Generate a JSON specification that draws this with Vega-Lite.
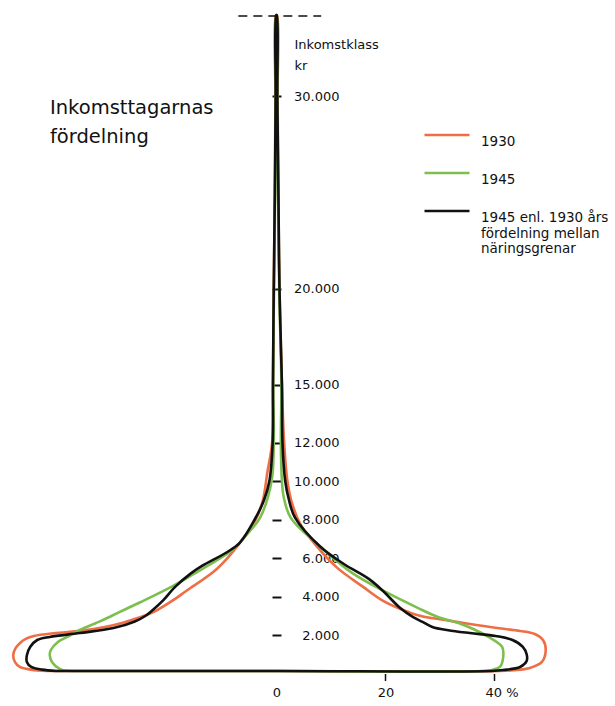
{
  "$schema": "https://vega.github.io/schema/vega-lite/v6.json",
  "width": 615,
  "height": 706,
  "autosize": "none",
  "padding": 0,
  "background": "white",
  "config": {"view": {"stroke": null}, "font": "DejaVu Sans"},
  "title": {
    "text": ["Inkomsttagarnas", "fördelning"],
    "anchor": "start",
    "frame": "group",
    "orient": "top",
    "offset": 0,
    "dx": 50,
    "dy": 147,
    "baseline": "top",
    "fontSize": 19.5,
    "fontWeight": "normal",
    "lineHeight": 29,
    "color": "#111111"
  },
  "layer": [
    {
      "data": {
        "values": [
          {"s": "1930", "o": 1, "inc": 130, "pct": -42.0},
          {"s": "1930", "o": 2, "inc": 200, "pct": -45.0},
          {"s": "1930", "o": 3, "inc": 340, "pct": -47.1},
          {"s": "1930", "o": 4, "inc": 600, "pct": -48.0},
          {"s": "1930", "o": 5, "inc": 950, "pct": -48.3},
          {"s": "1930", "o": 6, "inc": 1300, "pct": -47.9},
          {"s": "1930", "o": 7, "inc": 1600, "pct": -47.0},
          {"s": "1930", "o": 8, "inc": 1800, "pct": -46.0},
          {"s": "1930", "o": 9, "inc": 1950, "pct": -44.5},
          {"s": "1930", "o": 10, "inc": 2100, "pct": -40.5},
          {"s": "1930", "o": 11, "inc": 2200, "pct": -36.5},
          {"s": "1930", "o": 12, "inc": 2420, "pct": -31.5},
          {"s": "1930", "o": 13, "inc": 2650, "pct": -28.0},
          {"s": "1930", "o": 14, "inc": 2900, "pct": -25.3},
          {"s": "1930", "o": 15, "inc": 3200, "pct": -22.5},
          {"s": "1930", "o": 16, "inc": 3800, "pct": -19.0},
          {"s": "1930", "o": 17, "inc": 4300, "pct": -16.5},
          {"s": "1930", "o": 18, "inc": 5300, "pct": -11.5},
          {"s": "1930", "o": 19, "inc": 6000, "pct": -9.0},
          {"s": "1930", "o": 20, "inc": 6800, "pct": -6.7},
          {"s": "1930", "o": 21, "inc": 8000, "pct": -3.8},
          {"s": "1930", "o": 22, "inc": 9000, "pct": -2.5},
          {"s": "1930", "o": 23, "inc": 10400, "pct": -1.7},
          {"s": "1930", "o": 24, "inc": 12000, "pct": -0.8},
          {"s": "1930", "o": 25, "inc": 15000, "pct": -0.65},
          {"s": "1930", "o": 26, "inc": 20000, "pct": -0.5},
          {"s": "1930", "o": 27, "inc": 25000, "pct": -0.3},
          {"s": "1930", "o": 28, "inc": 30000, "pct": -0.2},
          {"s": "1930", "o": 29, "inc": 34200, "pct": -0.1},
          {"s": "1930", "o": 30, "inc": 34200, "pct": 0.1},
          {"s": "1930", "o": 31, "inc": 30000, "pct": 0.2},
          {"s": "1930", "o": 32, "inc": 25000, "pct": 0.35},
          {"s": "1930", "o": 33, "inc": 20000, "pct": 0.55},
          {"s": "1930", "o": 34, "inc": 15000, "pct": 1.0},
          {"s": "1930", "o": 35, "inc": 12000, "pct": 1.4},
          {"s": "1930", "o": 36, "inc": 10000, "pct": 2.0},
          {"s": "1930", "o": 37, "inc": 9000, "pct": 2.7},
          {"s": "1930", "o": 38, "inc": 7800, "pct": 4.3},
          {"s": "1930", "o": 39, "inc": 6600, "pct": 7.4},
          {"s": "1930", "o": 40, "inc": 5500, "pct": 11.1},
          {"s": "1930", "o": 41, "inc": 4500, "pct": 15.9},
          {"s": "1930", "o": 42, "inc": 3800, "pct": 19.4},
          {"s": "1930", "o": 43, "inc": 3300, "pct": 23.2},
          {"s": "1930", "o": 44, "inc": 3000, "pct": 26.3},
          {"s": "1930", "o": 45, "inc": 2780, "pct": 30.9},
          {"s": "1930", "o": 46, "inc": 2570, "pct": 35.5},
          {"s": "1930", "o": 47, "inc": 2360, "pct": 40.5},
          {"s": "1930", "o": 48, "inc": 2210, "pct": 44.7},
          {"s": "1930", "o": 49, "inc": 2050, "pct": 47.4},
          {"s": "1930", "o": 50, "inc": 1740, "pct": 48.9},
          {"s": "1930", "o": 51, "inc": 1220, "pct": 49.4},
          {"s": "1930", "o": 52, "inc": 600, "pct": 48.7},
          {"s": "1930", "o": 53, "inc": 290, "pct": 46.5},
          {"s": "1930", "o": 54, "inc": 170, "pct": 43.5},
          {"s": "1930", "o": 55, "inc": 130, "pct": 41.0},
          {"s": "1930", "o": 56, "inc": 130, "pct": 0},
          {"s": "1930", "o": 57, "inc": 130, "pct": -42.0},

          {"s": "1945", "o": 1, "inc": 130, "pct": -37.5},
          {"s": "1945", "o": 2, "inc": 230, "pct": -39.7},
          {"s": "1945", "o": 3, "inc": 600, "pct": -41.2},
          {"s": "1945", "o": 4, "inc": 960, "pct": -41.6},
          {"s": "1945", "o": 5, "inc": 1220, "pct": -41.4},
          {"s": "1945", "o": 6, "inc": 1640, "pct": -40.1},
          {"s": "1945", "o": 7, "inc": 1900, "pct": -38.4},
          {"s": "1945", "o": 8, "inc": 2260, "pct": -36.1},
          {"s": "1945", "o": 9, "inc": 2680, "pct": -32.6},
          {"s": "1945", "o": 10, "inc": 3000, "pct": -30.2},
          {"s": "1945", "o": 11, "inc": 3300, "pct": -28.0},
          {"s": "1945", "o": 12, "inc": 3700, "pct": -25.0},
          {"s": "1945", "o": 13, "inc": 4500, "pct": -19.3},
          {"s": "1945", "o": 14, "inc": 5200, "pct": -15.0},
          {"s": "1945", "o": 15, "inc": 5600, "pct": -12.6},
          {"s": "1945", "o": 16, "inc": 6400, "pct": -8.2},
          {"s": "1945", "o": 17, "inc": 7400, "pct": -4.9},
          {"s": "1945", "o": 18, "inc": 8100, "pct": -3.0},
          {"s": "1945", "o": 19, "inc": 10000, "pct": -0.9},
          {"s": "1945", "o": 20, "inc": 12000, "pct": -0.5},
          {"s": "1945", "o": 21, "inc": 15000, "pct": -0.6},
          {"s": "1945", "o": 22, "inc": 20000, "pct": -0.45},
          {"s": "1945", "o": 23, "inc": 25000, "pct": -0.25},
          {"s": "1945", "o": 24, "inc": 30000, "pct": -0.15},
          {"s": "1945", "o": 25, "inc": 34200, "pct": -0.05},
          {"s": "1945", "o": 26, "inc": 34200, "pct": 0.05},
          {"s": "1945", "o": 27, "inc": 30000, "pct": 0.15},
          {"s": "1945", "o": 28, "inc": 25000, "pct": 0.3},
          {"s": "1945", "o": 29, "inc": 20000, "pct": 0.5},
          {"s": "1945", "o": 30, "inc": 15000, "pct": 0.9},
          {"s": "1945", "o": 31, "inc": 12000, "pct": 0.8},
          {"s": "1945", "o": 32, "inc": 10000, "pct": 1.0},
          {"s": "1945", "o": 33, "inc": 9200, "pct": 1.3},
          {"s": "1945", "o": 34, "inc": 8100, "pct": 2.6},
          {"s": "1945", "o": 35, "inc": 6600, "pct": 8.0},
          {"s": "1945", "o": 36, "inc": 5200, "pct": 14.0},
          {"s": "1945", "o": 37, "inc": 4200, "pct": 20.3},
          {"s": "1945", "o": 38, "inc": 3400, "pct": 26.0},
          {"s": "1945", "o": 39, "inc": 2940, "pct": 29.6},
          {"s": "1945", "o": 40, "inc": 2600, "pct": 33.6},
          {"s": "1945", "o": 41, "inc": 2300, "pct": 36.2},
          {"s": "1945", "o": 42, "inc": 1900, "pct": 38.9},
          {"s": "1945", "o": 43, "inc": 1380, "pct": 41.4},
          {"s": "1945", "o": 44, "inc": 860, "pct": 41.6},
          {"s": "1945", "o": 45, "inc": 340, "pct": 41.0},
          {"s": "1945", "o": 46, "inc": 200, "pct": 39.7},
          {"s": "1945", "o": 47, "inc": 130, "pct": 37.5},
          {"s": "1945", "o": 48, "inc": 130, "pct": 0},
          {"s": "1945", "o": 49, "inc": 130, "pct": -37.5},

          {"s": "1945b", "o": 1, "inc": 130, "pct": -40.5},
          {"s": "1945b", "o": 2, "inc": 200, "pct": -43.0},
          {"s": "1945b", "o": 3, "inc": 340, "pct": -45.0},
          {"s": "1945b", "o": 4, "inc": 600, "pct": -45.8},
          {"s": "1945b", "o": 5, "inc": 950, "pct": -45.8},
          {"s": "1945b", "o": 6, "inc": 1380, "pct": -45.2},
          {"s": "1945b", "o": 7, "inc": 1740, "pct": -43.9},
          {"s": "1945b", "o": 8, "inc": 1900, "pct": -41.6},
          {"s": "1945b", "o": 9, "inc": 2100, "pct": -36.1},
          {"s": "1945b", "o": 10, "inc": 2360, "pct": -29.9},
          {"s": "1945b", "o": 11, "inc": 2700, "pct": -26.0},
          {"s": "1945b", "o": 12, "inc": 3000, "pct": -24.0},
          {"s": "1945b", "o": 13, "inc": 3300, "pct": -22.7},
          {"s": "1945b", "o": 14, "inc": 3800, "pct": -20.8},
          {"s": "1945b", "o": 15, "inc": 4500, "pct": -18.6},
          {"s": "1945b", "o": 16, "inc": 5200, "pct": -15.7},
          {"s": "1945b", "o": 17, "inc": 5600, "pct": -13.6},
          {"s": "1945b", "o": 18, "inc": 6300, "pct": -9.1},
          {"s": "1945b", "o": 19, "inc": 6800, "pct": -6.7},
          {"s": "1945b", "o": 20, "inc": 8000, "pct": -4.0},
          {"s": "1945b", "o": 21, "inc": 9000, "pct": -2.3},
          {"s": "1945b", "o": 22, "inc": 10000, "pct": -1.3},
          {"s": "1945b", "o": 23, "inc": 12000, "pct": -0.7},
          {"s": "1945b", "o": 24, "inc": 15000, "pct": -0.65},
          {"s": "1945b", "o": 25, "inc": 20000, "pct": -0.5},
          {"s": "1945b", "o": 26, "inc": 25000, "pct": -0.3},
          {"s": "1945b", "o": 27, "inc": 30000, "pct": -0.15},
          {"s": "1945b", "o": 28, "inc": 34200, "pct": -0.05},
          {"s": "1945b", "o": 29, "inc": 34200, "pct": 0.05},
          {"s": "1945b", "o": 30, "inc": 30000, "pct": 0.15},
          {"s": "1945b", "o": 31, "inc": 25000, "pct": 0.35},
          {"s": "1945b", "o": 32, "inc": 20000, "pct": 0.55},
          {"s": "1945b", "o": 33, "inc": 15000, "pct": 1.0},
          {"s": "1945b", "o": 34, "inc": 12000, "pct": 1.1},
          {"s": "1945b", "o": 35, "inc": 10000, "pct": 1.6},
          {"s": "1945b", "o": 36, "inc": 9000, "pct": 2.3},
          {"s": "1945b", "o": 37, "inc": 8100, "pct": 3.4},
          {"s": "1945b", "o": 38, "inc": 6600, "pct": 8.0},
          {"s": "1945b", "o": 39, "inc": 5700, "pct": 12.3},
          {"s": "1945b", "o": 40, "inc": 4900, "pct": 17.0},
          {"s": "1945b", "o": 41, "inc": 4300, "pct": 19.5},
          {"s": "1945b", "o": 42, "inc": 3400, "pct": 22.7},
          {"s": "1945b", "o": 43, "inc": 2940, "pct": 25.0},
          {"s": "1945b", "o": 44, "inc": 2680, "pct": 26.8},
          {"s": "1945b", "o": 45, "inc": 2420, "pct": 28.6},
          {"s": "1945b", "o": 46, "inc": 2250, "pct": 31.5},
          {"s": "1945b", "o": 47, "inc": 2100, "pct": 35.5},
          {"s": "1945b", "o": 48, "inc": 1950, "pct": 40.2},
          {"s": "1945b", "o": 49, "inc": 1740, "pct": 43.3},
          {"s": "1945b", "o": 50, "inc": 1380, "pct": 45.2},
          {"s": "1945b", "o": 51, "inc": 1000, "pct": 45.9},
          {"s": "1945b", "o": 52, "inc": 650, "pct": 45.9},
          {"s": "1945b", "o": 53, "inc": 340, "pct": 44.7},
          {"s": "1945b", "o": 54, "inc": 180, "pct": 41.6},
          {"s": "1945b", "o": 55, "inc": 130, "pct": 39.5},
          {"s": "1945b", "o": 56, "inc": 130, "pct": 0},
          {"s": "1945b", "o": 57, "inc": 130, "pct": -40.5}
        ]
      },
      "mark": {"type": "line", "interpolate": "catmull-rom", "strokeWidth": 2.6, "strokeCap": "round", "strokeJoin": "round"},
      "encoding": {
        "x": {
          "field": "pct", "type": "quantitative",
          "scale": {"domain": [-50.73, 62.11], "nice": false, "zero": false},
          "axis": {
            "orient": "bottom", "offset": -32.5, "values": [0, 20, 40],
            "domain": false, "grid": false, "tickSize": 7, "tickWidth": 1.5, "tickColor": "#111111",
            "tickOpacity": {"condition": {"test": "datum.value == 0", "value": 0}, "value": 1},
            "labelPadding": 6, "labelFontSize": 13, "labelColor": "#111111",
            "labelExpr": "datum.value == 40 ? '40 %' : datum.label",
            "labelOffset": {"condition": {"test": "datum.value == 40", "value": 7}, "value": 0},
            "title": null
          }
        },
        "y": {
          "field": "inc", "type": "quantitative",
          "scale": {"domain": [-1688, 34987], "nice": false, "zero": false},
          "axis": {
            "orient": "right", "offset": -343,
            "values": [2000, 4000, 6000, 8000, 10000, 12000, 15000, 20000, 30000],
            "domain": false, "grid": false, "tickSize": 9, "tickWidth": 2, "tickColor": "#111111",
            "labelAlign": "right", "labelPadding": 58, "labelFontSize": 13, "labelColor": "#111111",
            "labelExpr": "replace(format(datum.value, ','), ',', '.')",
            "title": ["Inkomstklass", "kr"], "titleAngle": 0, "titleAlign": "left",
            "titleX": 22, "titleY": 38, "titleBaseline": "top",
            "titleFontWeight": "normal", "titleFontSize": 13, "titleLineHeight": 21, "titleColor": "#111111"
          }
        },
        "color": {
          "field": "s", "type": "nominal",
          "scale": {"domain": ["1930", "1945", "1945b"], "range": ["#ee6e45", "#7cbf4f", "#111111"]},
          "legend": {
            "orient": "none", "legendX": 423, "legendY": 111, "title": null,
            "symbolType": "stroke", "symbolSize": 2025, "symbolStrokeWidth": 2.5,
            "labelFontSize": 13.5, "labelOffset": 10, "labelColor": "#111111", "labelBaseline": "top",
            "labelLimit": 300, "rowPadding": 0,
            "labelExpr": "datum.label == '1945b' ? ['1945 enl. 1930 års', 'fördelning mellan', 'näringsgrenar'] : datum.label"
          }
        },
        "order": {"field": "o", "type": "quantitative"}
      }
    },
    {
      "data": {"values": [{"inc": 34160, "a": -7.0, "b": 8.2}]},
      "mark": {"type": "rule", "strokeDash": [9, 6], "strokeWidth": 1.5, "color": "#111111"},
      "encoding": {
        "x": {"field": "a", "type": "quantitative"},
        "x2": {"field": "b"},
        "y": {"field": "inc", "type": "quantitative"}
      }
    }
  ]
}
